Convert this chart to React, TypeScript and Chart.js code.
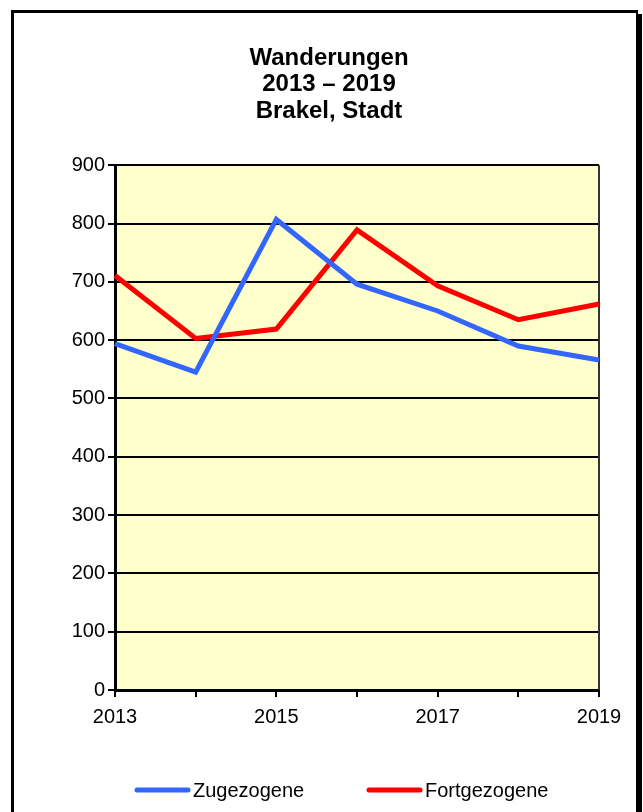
import React, { useEffect, useRef } from "react";
import { Chart, registerables } from "chart.js";

Chart.register(...registerables);

const years = ["2013", "2014", "2015", "2016", "2017", "2018", "2019"];
const zugezogene = [594, 545, 807, 696, 650, 590, 566];
const fortgezogene = [711, 603, 619, 789, 693, 635, 662];
const titleLines = ["Wanderungen", "2013 – 2019", "Brakel, Stadt"];
const seriesNames = ["Zugezogene", "Fortgezogene"];
const seriesColors = ["#3366FF", "#FF0000"];

const FONT = "Arial, 'Liberation Sans', Helvetica, sans-serif";

const plotBg = {
  id: "plotBg",
  beforeDraw(chart: any) {
    const { ctx, chartArea } = chart;
    ctx.save();
    ctx.fillStyle = "#FFFFCC";
    ctx.fillRect(chartArea.left, chartArea.top, chartArea.right - chartArea.left, chartArea.bottom - chartArea.top);
    ctx.restore();
  },
  beforeDatasetsDraw(chart: any) {
    const { ctx, chartArea } = chart;
    ctx.save();
    ctx.strokeStyle = "#333333";
    ctx.lineWidth = 2;
    ctx.beginPath();
    ctx.moveTo(chartArea.right, chartArea.top);
    ctx.lineTo(chartArea.right, chartArea.bottom);
    ctx.stroke();
    ctx.restore();
  },
};

const customLegend = {
  id: "customLegend",
  afterDraw(chart: any) {
    const { ctx } = chart;
    const y = 777;
    const starts = [121, 353];
    ctx.save();
    ctx.font = `20px ${FONT}`;
    ctx.textBaseline = "middle";
    ctx.textAlign = "left";
    chart.data.datasets.forEach((ds: any, i: number) => {
      const x = starts[i];
      ctx.strokeStyle = ds.borderColor;
      ctx.lineWidth = 5;
      ctx.lineCap = "round";
      ctx.beginPath();
      ctx.moveTo(x + 2, y);
      ctx.lineTo(x + 53, y);
      ctx.stroke();
      ctx.fillStyle = "#000";
      ctx.fillText(ds.label, x + 58, y + 1);
    });
    ctx.restore();
  },
};

export default function App() {
  const ref = useRef<HTMLCanvasElement>(null);
  useEffect(() => {
    if (!ref.current) return;
    const chart = new Chart(ref.current, {
      type: "line",
      data: {
        labels: years,
        datasets: [
          {
            label: seriesNames[0],
            data: zugezogene,
            borderColor: seriesColors[0],
            backgroundColor: seriesColors[0],
            borderWidth: 5,
            pointRadius: 0,
            tension: 0,
          },
          {
            label: seriesNames[1],
            data: fortgezogene,
            borderColor: seriesColors[1],
            backgroundColor: seriesColors[1],
            borderWidth: 5,
            pointRadius: 0,
            tension: 0,
          },
        ],
      },
      options: {
        animation: false,
        responsive: false,
        maintainAspectRatio: false,
        layout: { padding: { left: 8, right: 0, top: 0, bottom: 72 } },
        plugins: {
          legend: { display: false },
          tooltip: { enabled: false },
          title: {
            display: true,
            text: titleLines,
            color: "#000",
            font: { family: FONT, size: 24, weight: "bold", lineHeight: 1.1 },
            padding: { top: 32, bottom: 41 },
          },
        },
        scales: {
          x: {
            offset: false,
            afterFit(scale: any) {
              scale.height = 50;
            },
            grid: {
              drawOnChartArea: false,
              drawTicks: true,
              tickLength: 7,
              color: "#000",
              lineWidth: 2,
            },
            border: { color: "#000", width: 3 },
            ticks: {
              autoSkip: false,
              maxRotation: 0,
              color: "#000",
              padding: 8,
              font: { family: FONT, size: 20 },
              callback: (_v: any, i: number) => (i % 2 === 0 ? years[i] : ""),
            },
          },
          y: {
            min: 0,
            max: 900,
            afterFit(scale: any) {
              scale.width = 93;
            },
            grid: {
              color: "#000",
              lineWidth: 2,
              drawTicks: true,
              tickLength: 7,
            },
            border: { color: "#000", width: 3 },
            ticks: {
              stepSize: 100,
              color: "#000",
              padding: 3,
              font: { family: FONT, size: 20 },
            },
          },
          spacer: {
            type: "linear",
            position: "right",
            display: true,
            afterFit(scale: any) {
              scale.width = 37;
            },
            grid: { display: false, drawTicks: false },
            border: { display: false },
            ticks: { display: false },
          },
        },
      },
      plugins: [plotBg, customLegend],
    });
    return () => chart.destroy();
  }, []);

  return (
    <div style={{ position: "fixed", left: 0, top: 0, width: 643, height: 812, overflow: "hidden", background: "#fff" }}>
      <div
        style={{
          position: "absolute",
          left: 11,
          top: 10,
          width: 622,
          height: 830,
          borderLeft: "3px solid #000",
          borderTop: "3px solid #000",
          borderRight: "2px solid #000",
          borderBottom: "3px solid #000",
          boxShadow: "4px 4px 0 #000",
          background: "#fff",
        }}
      >
        <canvas ref={ref} width={622} height={799} style={{ display: "block", width: 622, height: 799 }} />
      </div>
    </div>
  );
}
